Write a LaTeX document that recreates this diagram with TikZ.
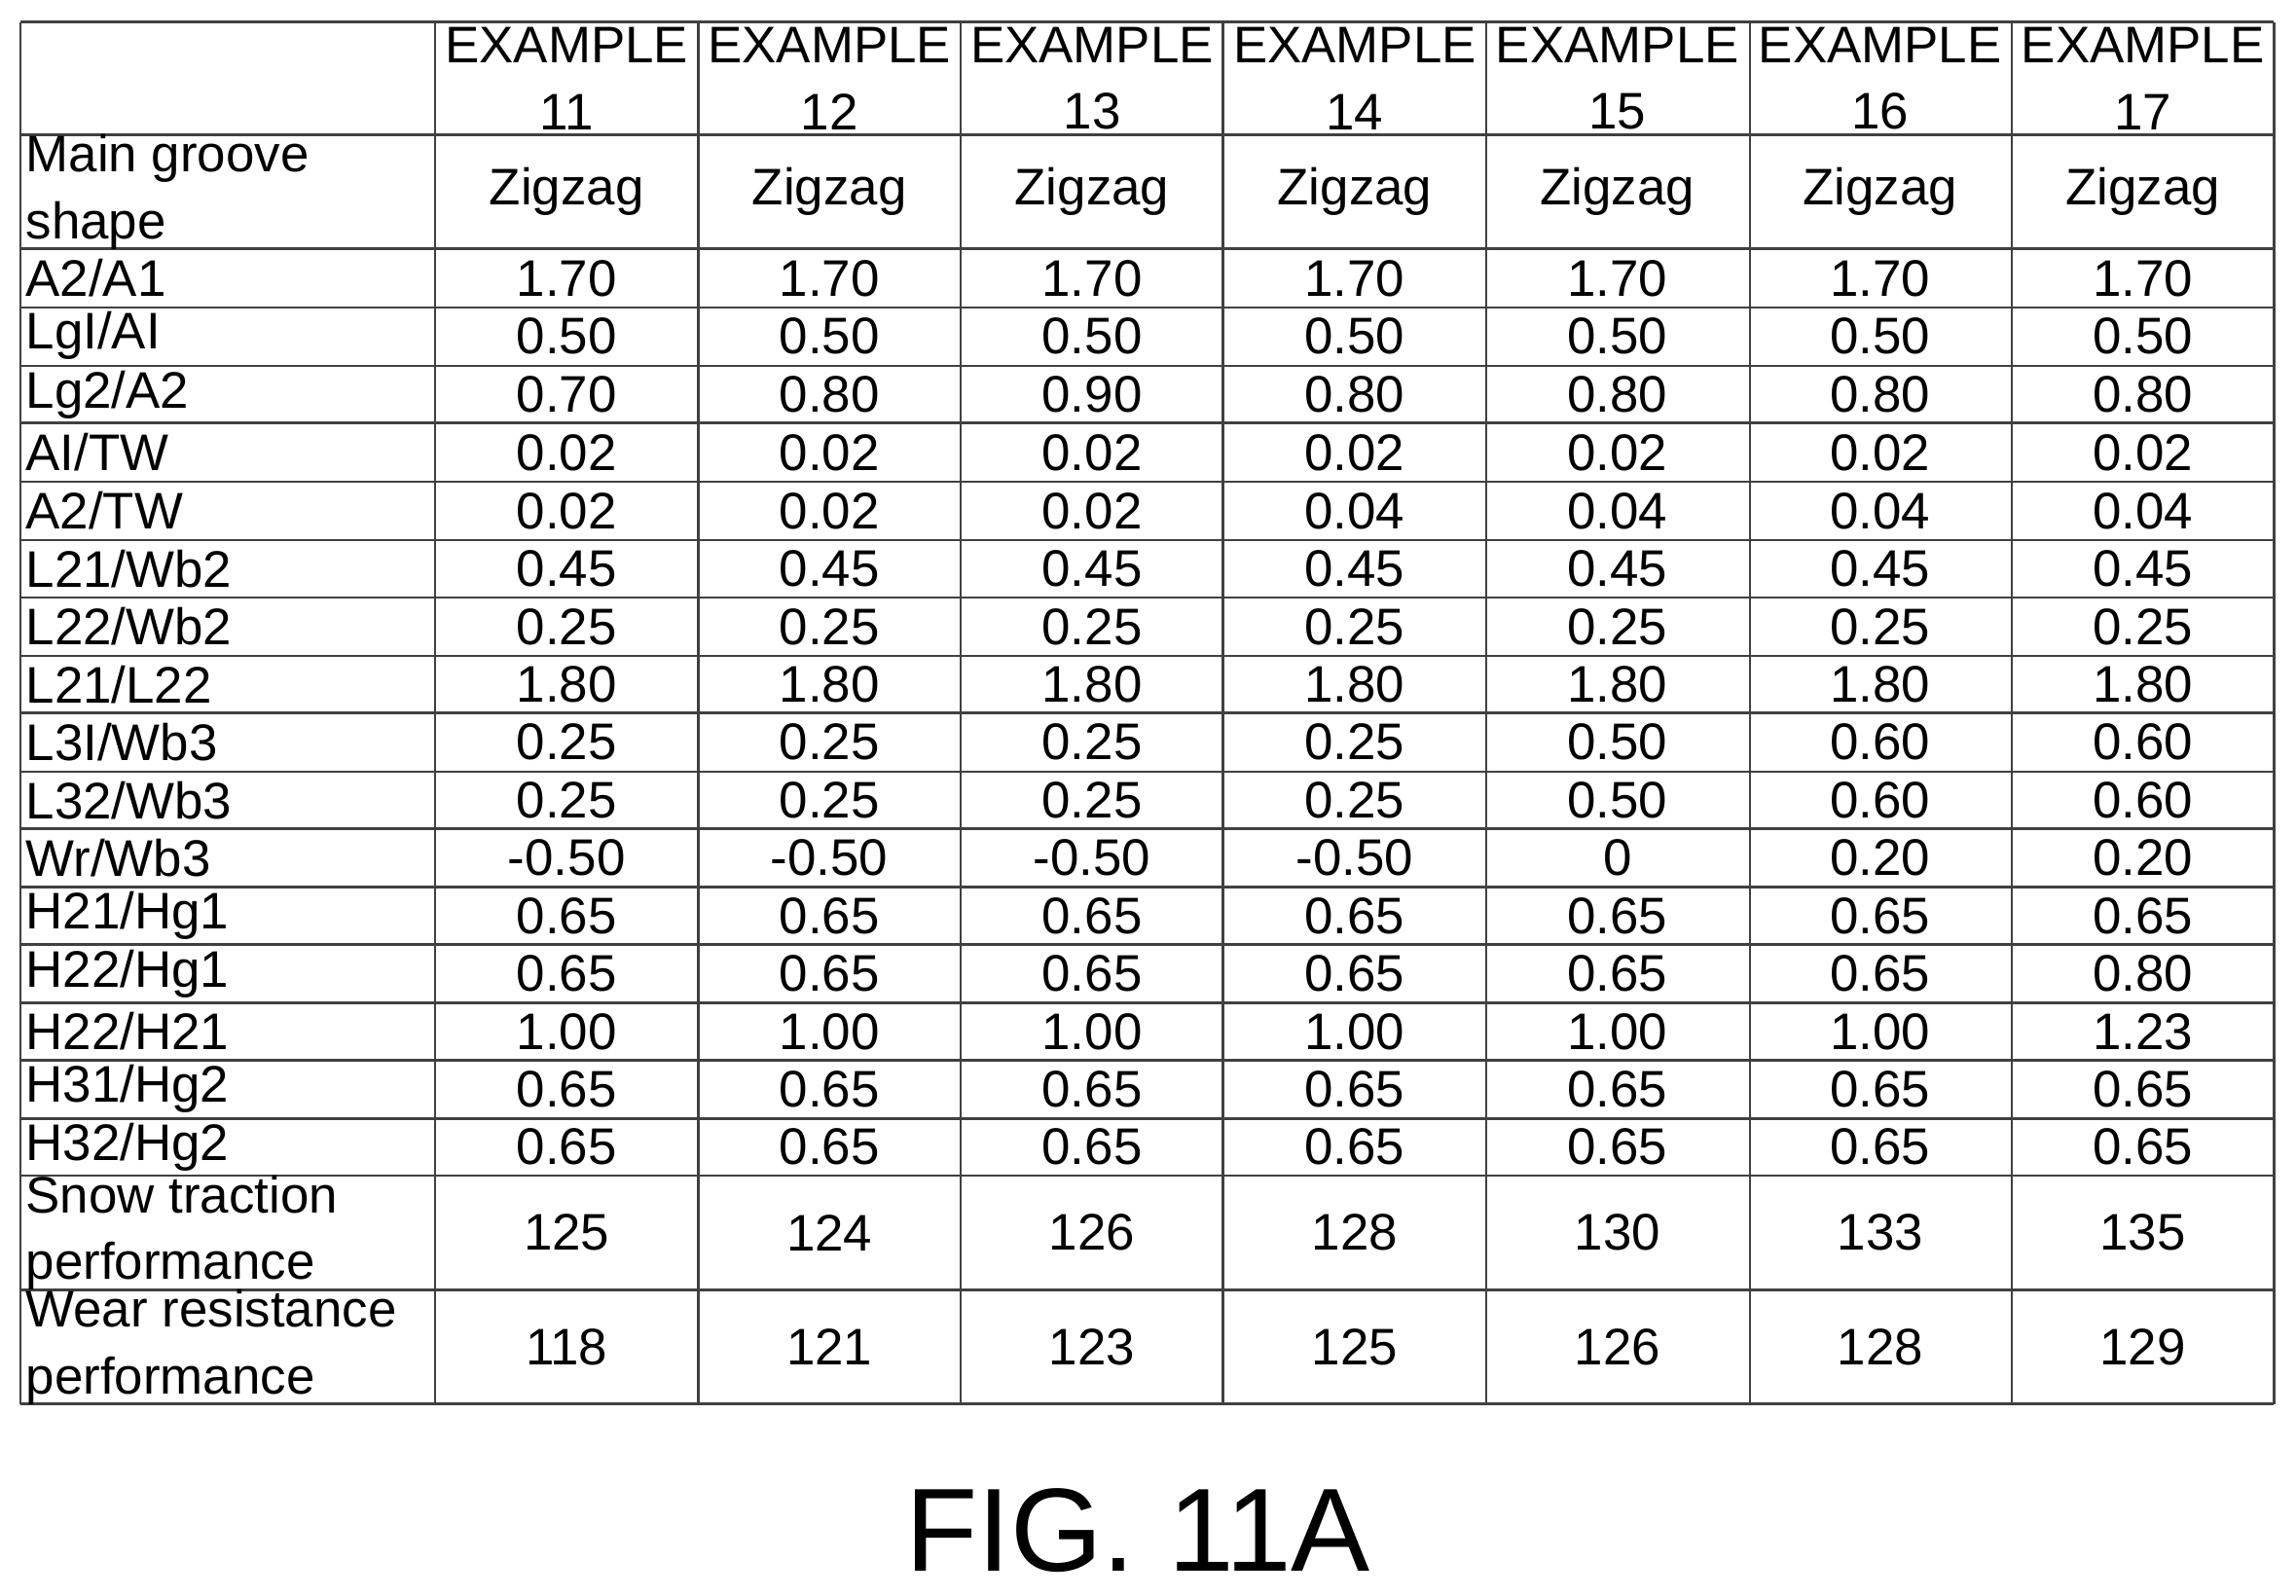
\documentclass[tikz,border=0pt]{standalone}
\usepackage{fontspec}
\setmainfont{Liberation Sans}
\usetikzlibrary{positioning}
\begin{document}
\begin{tikzpicture}[x=0.1mm, y=-0.1mm, font=\fontsize{10}{13}\selectfont]
\tikzset{cell/.style={align=center, inner sep=0pt}, head/.style={align=left, anchor=west, inner sep=0pt}, rule/.style={black!75, line width=0.5pt}}
\useasboundingbox (0,0) rectangle (1568,1090);
% grid lines
\foreach \x in {14,297,477,656,835,1015,1195,1374,1553}
  \draw[rule] (\x,15) -- (\x,959);
\foreach \y in {15,92,170,210,250,289,329,369,408,448,487,527,566,606,645,685,724,764,803,881,959}
  \draw[rule] (14,\y) -- (1553,\y);
% column headers
\foreach \n [count=\c] in {11,...,17}
  \node[cell] (h\c) at ({387+(\c-1)*179.4},53.5) {EXAMPLE\\\n};
% rows
\foreach \r/\y/\lab/\vals in {
  1/131/{Main groove\\shape}/{Zigzag,Zigzag,Zigzag,Zigzag,Zigzag,Zigzag,Zigzag},
  2/190/{A2/A1}/{1.70,1.70,1.70,1.70,1.70,1.70,1.70},
  3/229.5/{LgI/AI}/{0.50,0.50,0.50,0.50,0.50,0.50,0.50},
  4/269.5/{Lg2/A2}/{0.70,0.80,0.90,0.80,0.80,0.80,0.80},
  5/309/{AI/TW}/{0.02,0.02,0.02,0.02,0.02,0.02,0.02},
  6/349/{A2/TW}/{0.02,0.02,0.02,0.04,0.04,0.04,0.04},
  7/388.5/{L21/Wb2}/{0.45,0.45,0.45,0.45,0.45,0.45,0.45},
  8/428/{L22/Wb2}/{0.25,0.25,0.25,0.25,0.25,0.25,0.25},
  9/467.5/{L21/L22}/{1.80,1.80,1.80,1.80,1.80,1.80,1.80},
  10/507/{L3I/Wb3}/{0.25,0.25,0.25,0.25,0.50,0.60,0.60},
  11/546.5/{L32/Wb3}/{0.25,0.25,0.25,0.25,0.50,0.60,0.60},
  12/586/{Wr/Wb3}/{-0.50,-0.50,-0.50,-0.50,0,0.20,0.20},
  13/625.5/{H21/Hg1}/{0.65,0.65,0.65,0.65,0.65,0.65,0.65},
  14/665/{H22/Hg1}/{0.65,0.65,0.65,0.65,0.65,0.65,0.80},
  15/704.5/{H22/H21}/{1.00,1.00,1.00,1.00,1.00,1.00,1.23},
  16/744/{H31/Hg2}/{0.65,0.65,0.65,0.65,0.65,0.65,0.65},
  17/783.5/{H32/Hg2}/{0.65,0.65,0.65,0.65,0.65,0.65,0.65},
  18/842/{Snow traction\\performance}/{125,124,126,128,130,133,135},
  19/920/{Wear resistance\\performance}/{118,121,123,125,126,128,129}}
{
  \node[head] (l\r) at (17,\y) {\lab};
  \foreach \v [count=\c] in \vals
    \node[cell] (v\r-\c) at ({387+(\c-1)*179.4},\y) {\v};
}
\node[font=\fontsize{23}{26}\selectfont] (fig) at (777,1045) {FIG. 11A};
\end{tikzpicture}
\end{document}
